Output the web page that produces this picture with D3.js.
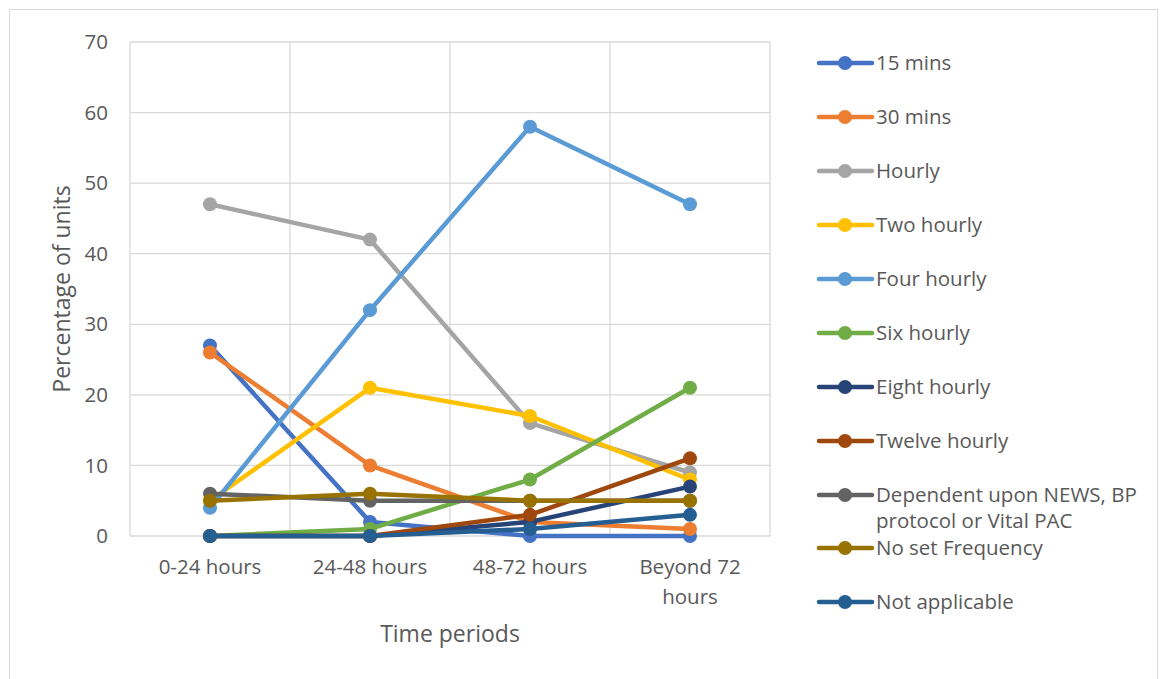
<!DOCTYPE html>
<html>
<head>
<meta charset="utf-8">
<script src="https://cdn.jsdelivr.net/npm/d3@7"></script>
<style>
  html, body { margin: 0; padding: 0; background: #fff; }
  svg { display: block; }
  text { font-family: "Open Sans", Lato, sans-serif; fill: #595959; }
</style>
</head>
<body>
<svg id="chart" width="1163" height="679"></svg>
<script>
// Time periods along the x axis
const categories = ["0-24 hours", "24-48 hours", "48-72 hours", "Beyond 72 hours"];
const categoryLines = [["0-24 hours"], ["24-48 hours"], ["48-72 hours"], ["Beyond 72", "hours"]];

// Observation frequency series (percentage of units)
const seriesNames = [
  "15 mins", "30 mins", "Hourly", "Two hourly", "Four hourly", "Six hourly",
  "Eight hourly", "Twelve hourly", "Dependent upon NEWS, BP protocol or Vital PAC",
  "No set Frequency", "Not applicable"
];
const legendLines = [
  ["15 mins"], ["30 mins"], ["Hourly"], ["Two hourly"], ["Four hourly"], ["Six hourly"],
  ["Eight hourly"], ["Twelve hourly"], ["Dependent upon NEWS, BP", "protocol or Vital PAC"],
  ["No set Frequency"], ["Not applicable"]
];
const mins15        = [27, 2, 0, 0];
const mins30        = [26, 10, 2, 1];
const hourly        = [47, 42, 16, 9];
const twoHourly     = [5, 21, 17, 8];
const fourHourly    = [4, 32, 58, 47];
const sixHourly     = [0, 1, 8, 21];
const eightHourly   = [0, 0, 2, 7];
const twelveHourly  = [0, 0, 3, 11];
const dependent     = [6, 5, 5, 5];
const noSetFreq     = [5, 6, 5, 5];
const notApplicable = [0, 0, 1, 3];
const seriesValues = [mins15, mins30, hourly, twoHourly, fourHourly, sixHourly,
  eightHourly, twelveHourly, dependent, noSetFreq, notApplicable];
const colors = ["#4472C4", "#ED7D31", "#A5A5A5", "#FFC000", "#5B9BD5", "#70AD47",
  "#264478", "#9E480E", "#636363", "#997300", "#255E91"];
const yTicks = [0, 10, 20, 30, 40, 50, 60, 70];

const svg = d3.select("#chart");
const W = 1163, H = 679;

// Chart area border
svg.append("rect")
  .attr("x", 9.5).attr("y", 9.5).attr("width", 1148).attr("height", H - 8)
  .attr("fill", "#fff").attr("stroke", "#d9d9d9").attr("stroke-width", 1);

const plot = { left: 130, right: 770, top: 42, bottom: 536 };

const x = d3.scaleBand().domain(categories).range([plot.left, plot.right]).padding(0);
const y = d3.scaleLinear().domain([0, 70]).range([plot.bottom, plot.top]);

// Horizontal gridlines
svg.append("g").selectAll("line").data(yTicks).join("line")
  .attr("x1", plot.left).attr("x2", plot.right)
  .attr("y1", d => y(d)).attr("y2", d => y(d))
  .attr("stroke", "#d9d9d9").attr("stroke-width", 1.3);

// Vertical gridlines at category boundaries
const bounds = categories.map(c => x(c)).concat([plot.right]);
svg.append("g").selectAll("line").data(bounds).join("line")
  .attr("x1", d => d).attr("x2", d => d)
  .attr("y1", plot.top).attr("y2", plot.bottom)
  .attr("stroke", "#d9d9d9").attr("stroke-width", 1.3);

// Y tick labels
svg.append("g").selectAll("text").data(yTicks).join("text")
  .attr("x", 108).attr("y", d => y(d))
  .attr("dy", "0.35em").attr("text-anchor", "end")
  .attr("font-size", 20.5).text(d => d);

// X tick labels
const xl = svg.append("g").selectAll("text").data(categories).join("text")
  .attr("x", d => x(d) + x.bandwidth() / 2).attr("y", 574)
  .attr("text-anchor", "middle").attr("font-size", 20.5);
xl.each(function(d, i) {
  d3.select(this).selectAll("tspan").data(categoryLines[i]).join("tspan")
    .attr("x", x(d) + x.bandwidth() / 2).attr("dy", (t, j) => j === 0 ? 0 : 30).text(t => t);
});

// Axis titles
svg.append("text").attr("x", (plot.left + plot.right) / 2).attr("y", 642)
  .attr("text-anchor", "middle").attr("font-size", 23).text("Time periods");
svg.append("text")
  .attr("transform", `translate(70,${(plot.top + plot.bottom) / 2}) rotate(-90)`)
  .attr("text-anchor", "middle").attr("font-size", 23).text("Percentage of units");

// Series lines and markers
const line = d3.line()
  .x((d, i) => x(categories[i]) + x.bandwidth() / 2)
  .y(d => y(d));

const series = svg.append("g").selectAll("g").data(seriesValues).join("g");
series.append("path")
  .attr("d", d => line(d)).attr("fill", "none")
  .attr("stroke", (d, i) => colors[i]).attr("stroke-width", 4.5)
  .attr("stroke-linejoin", "round").attr("stroke-linecap", "round");
series.each(function(vals, i) {
  d3.select(this).selectAll("circle").data(vals).join("circle")
    .attr("cx", (d, j) => x(categories[j]) + x.bandwidth() / 2)
    .attr("cy", d => y(d)).attr("r", 7).attr("fill", colors[i]);
});

// Legend
const legendY = [63, 117, 171, 225, 279, 333, 387, 441, 495, 548, 602];
const legend = svg.append("g").selectAll("g").data(seriesNames).join("g")
  .attr("transform", (d, i) => `translate(0,${legendY[i]})`);
legend.append("line")
  .attr("x1", 819).attr("x2", 872).attr("y1", 0).attr("y2", 0)
  .attr("stroke", (d, i) => colors[i]).attr("stroke-width", 4.5).attr("stroke-linecap", "round");
legend.append("circle").attr("cx", 845).attr("cy", 0).attr("r", 7)
  .attr("fill", (d, i) => colors[i]);
legend.append("text").attr("x", 876).attr("y", 0)
  .attr("font-size", 20.5)
  .each(function(d, i) {
    d3.select(this).selectAll("tspan").data(legendLines[i]).join("tspan")
      .attr("x", 876).attr("dy", (t, j) => j === 0 ? "0.35em" : 26).text(t => t);
  });
</script>
</body>
</html>
